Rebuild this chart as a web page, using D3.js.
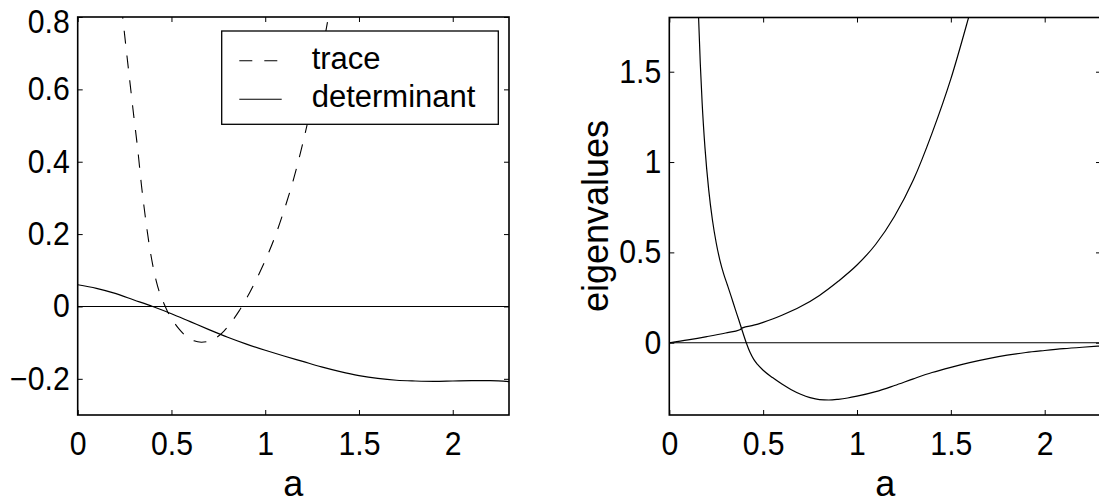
<!DOCTYPE html>
<html>
<head>
<meta charset="utf-8">
<script src="https://cdn.jsdelivr.net/npm/d3@7"></script>
<style>
  html, body { margin: 0; padding: 0; background: #fff; }
  svg { display: block; }
  text { font-family: "Liberation Sans", Arial, Helvetica, sans-serif; fill: #000; }
</style>
</head>
<body>
<svg id="chart" width="1099" height="504"></svg>
<script>
// ---------------- data ----------------
const xTicks = [0, 0.5, 1, 1.5, 2];
const leftYTicks = [-0.2, 0, 0.2, 0.4, 0.6, 0.8];
const rightYTicks = [0, 0.5, 1, 1.5];
const xLabel = "a";
const rightYLabel = "eigenvalues";
const legendLabels = ["trace", "determinant"];

// trace of the matrix vs a (dashed)
const traceA = [0.22, 0.24, 0.26, 0.28, 0.30, 0.32, 0.34, 0.36, 0.38, 0.40, 0.42, 0.44, 0.46, 0.48, 0.50, 0.54, 0.58, 0.62, 0.66, 0.70, 0.74, 0.78, 0.82, 0.86, 0.90, 0.95, 1.00, 1.05, 1.10, 1.15, 1.20, 1.25, 1.30, 1.35, 1.40];
const traceV = [0.90, 0.80, 0.705, 0.613, 0.522, 0.435, 0.335, 0.25, 0.175, 0.115, 0.068, 0.033, 0.008, -0.015, -0.033, -0.062, -0.083, -0.095, -0.099, -0.096, -0.086, -0.068, -0.043, -0.013, 0.022, 0.072, 0.127, 0.19, 0.265, 0.35, 0.45, 0.565, 0.695, 0.84, 1.0];

// determinant vs a (solid)
const detA = [0, 0.1, 0.2, 0.3, 0.4, 0.5, 0.6, 0.7, 0.8, 0.9, 1.0, 1.1, 1.2, 1.3, 1.4, 1.5, 1.6, 1.7, 1.8, 1.9, 2.0, 2.1, 2.2, 2.3];
const detV = [0.060, 0.050, 0.036, 0.018, 0.000, -0.020, -0.042, -0.064, -0.085, -0.104, -0.121, -0.137, -0.152, -0.167, -0.180, -0.191, -0.199, -0.204, -0.206, -0.207, -0.206, -0.205, -0.205, -0.208];

// eigenvalue branch 1 (steep descending one)
const eig1A = [0.145, 0.156, 0.165, 0.175, 0.19, 0.21, 0.23, 0.25, 0.27, 0.29, 0.31, 0.33, 0.35, 0.37, 0.39, 0.41, 0.43, 0.45, 0.47, 0.50, 0.55, 0.60, 0.65, 0.70, 0.75, 0.80, 0.85, 0.90, 0.95, 1.00, 1.10, 1.20, 1.30, 1.40, 1.50, 1.60, 1.70, 1.80, 1.90, 2.00, 2.10, 2.20, 2.30];
const eig1V = [2.22, 1.80, 1.547, 1.327, 1.08, 0.846, 0.678, 0.552, 0.455, 0.38, 0.318, 0.255, 0.19, 0.127, 0.062, 0.0, -0.053, -0.092, -0.12, -0.152, -0.193, -0.229, -0.26, -0.285, -0.304, -0.315, -0.317, -0.313, -0.306, -0.296, -0.271, -0.237, -0.2, -0.165, -0.136, -0.11, -0.088, -0.069, -0.054, -0.043, -0.033, -0.025, -0.018];

// eigenvalue branch 2 (rising one)
const eig2A = [0, 0.1, 0.2, 0.3, 0.376, 0.39, 0.45, 0.5, 0.55, 0.6, 0.7, 0.8, 0.9, 1.0, 1.1, 1.2, 1.3, 1.4, 1.5, 1.6, 1.7];
const eig2V = [0, 0.016, 0.034, 0.054, 0.072, 0.082, 0.097, 0.113, 0.131, 0.152, 0.200, 0.262, 0.34, 0.43, 0.545, 0.70, 0.90, 1.16, 1.46, 1.82, 2.2];

const xDomain = [0, 2.3];
const leftYDomain = [-0.3, 0.8];
const rightYDomain = [-0.4, 1.8];

// ---------------- drawing ----------------
const svg = d3.select("#chart");
const TICK_FONT = 32.5, TICK_SX = 0.93, LABEL_FONT = 36;

function fmt(d) {
  const s = d3.format("")(d);
  return s.replace("-", "\u2013");
}

function makePanel(id, box, yDomain, yTicks) {
  const x = d3.scaleLinear().domain(xDomain).range([box.x0, box.x1]);
  const y = d3.scaleLinear().domain(yDomain).range([box.y1, box.y0]);
  const g = svg.append("g");
  g.append("clipPath").attr("id", "clip-" + id)
    .append("rect").attr("x", box.x0).attr("y", box.y0)
    .attr("width", box.x1 - box.x0).attr("height", box.y1 - box.y0);

  const styleAxis = sel => {
    sel.select(".domain").remove();
    sel.selectAll(".tick line").attr("stroke", "#000").attr("stroke-width", 1);
    sel.selectAll(".tick text")
      .style("font-size", TICK_FONT + "px")
      .style("font-family", '"Liberation Sans", Arial, sans-serif')
      .each(function () {
        const t = d3.select(this);
        const x0 = +t.attr("x") || 0;
        t.attr("x", x0 / TICK_SX).attr("transform", `scale(${TICK_SX},1)`);
      });
  };
  g.append("g").attr("transform", `translate(0,${box.y1})`)
    .call(d3.axisBottom(x).tickValues(xTicks).tickFormat(fmt).tickSizeInner(-5).tickSizeOuter(0).tickPadding(17))
    .call(styleAxis);
  g.append("g").attr("transform", `translate(0,${box.y0})`)
    .call(d3.axisTop(x).tickValues(xTicks).tickFormat("").tickSizeInner(-5).tickSizeOuter(0))
    .call(styleAxis);
  const ly = g.append("g").attr("transform", `translate(${box.x0},0)`)
    .call(d3.axisLeft(y).tickValues(yTicks).tickFormat(fmt).tickSizeInner(-5).tickSizeOuter(0).tickPadding(8))
    .call(styleAxis);
  // keep the topmost label inside the figure
  ly.selectAll(".tick text").each(function (d) {
    const py = y(d);
    if (py < 22) d3.select(this).attr("y", 22 - py);
  });
  g.append("g").attr("transform", `translate(${box.x1},0)`)
    .call(d3.axisRight(y).tickValues(yTicks).tickFormat("").tickSizeInner(-5).tickSizeOuter(0))
    .call(styleAxis);
  g.selectAll("text").attr("fill", "#000");

  const plot = g.append("g").attr("clip-path", `url(#clip-${id})`);
  return { x, y, g, plot, box };
}

function drawLine(panel, xs, ys, dash, width) {
  const pts = xs.map((a, i) => [a, ys[i]]);
  const line = d3.line().x(d => panel.x(d[0])).y(d => panel.y(d[1])).curve(d3.curveMonotoneX);
  const p = panel.plot.append("path").datum(pts)
    .attr("d", line).attr("fill", "none").attr("stroke", "#000")
    .attr("stroke-width", width || 1.2);
  if (dash) p.attr("stroke-dasharray", dash);
  return p;
}

function frame(panel) {
  const b = panel.box;
  panel.g.append("rect").attr("x", b.x0).attr("y", b.y0)
    .attr("width", b.x1 - b.x0).attr("height", b.y1 - b.y0)
    .attr("fill", "none").attr("stroke", "#000").attr("stroke-width", 1.6);
}

// ---- left panel ----
const L = makePanel("L", { x0: 77.7, x1: 509, y0: 17, y1: 415 }, leftYDomain, leftYTicks);
drawLine(L, xDomain, [0, 0], null, 1.1);
drawLine(L, detA, detV, null, 1.2);
drawLine(L, traceA, traceV, "13,12", 1.1);
frame(L);

L.g.append("text").attr("x", (L.box.x0 + L.box.x1) / 2).attr("y", 496)
  .attr("text-anchor", "middle").style("font-size", LABEL_FONT + "px").text(xLabel);

// legend
const leg = L.g.append("g");
leg.append("rect").attr("x", 221.7).attr("y", 31).attr("width", 276.6).attr("height", 93.3)
  .attr("fill", "#fff").attr("stroke", "#000").attr("stroke-width", 1.3);
const legY = [60.7, 99.3];
const legDash = ["13,12", null];
legendLabels.forEach((lab, i) => {
  const ln = leg.append("line").attr("x1", 239.3).attr("x2", 281.7)
    .attr("y1", legY[i]).attr("y2", legY[i]).attr("stroke", "#000").attr("stroke-width", 1.1);
  if (legDash[i]) ln.attr("stroke-dasharray", legDash[i]);
  leg.append("text").attr("x", 311.7).attr("y", legY[i] + 8)
    .style("font-size", "31px").text(lab);
});

// ---- right panel ----
const R = makePanel("R", { x0: 669.3, x1: 1101, y0: 17.5, y1: 415 }, rightYDomain, rightYTicks);
drawLine(R, xDomain, [0, 0], null, 1.1);
drawLine(R, eig1A, eig1V, null, 1.2);
drawLine(R, eig2A, eig2V, null, 1.2);
frame(R);

R.g.append("text").attr("x", (R.box.x0 + R.box.x1) / 2).attr("y", 496)
  .attr("text-anchor", "middle").style("font-size", LABEL_FONT + "px").text(xLabel);
R.g.append("text").attr("transform", "translate(608,216) rotate(-90)")
  .attr("text-anchor", "middle").style("font-size", LABEL_FONT + "px").text(rightYLabel);
</script>
</body>
</html>
